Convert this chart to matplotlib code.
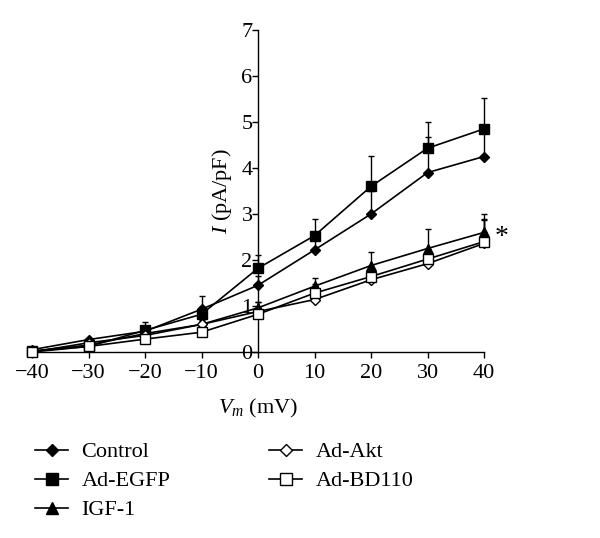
import numpy as np
import matplotlib
matplotlib.use("Agg")
import matplotlib.pyplot as plt
from matplotlib.lines import Line2D

plt.rcParams['font.family'] = ['Liberation Serif', 'DejaVu Serif']
plt.rcParams['mathtext.fontset'] = 'custom'
plt.rcParams['mathtext.rm'] = 'Liberation Serif'
plt.rcParams['mathtext.it'] = 'Liberation Serif:italic'

# voltage steps (mV)
vm = [-40, -30, -20, -10, 0, 10, 20, 30, 40]

# current density (pA/pF) and upper SEM
control = [0.05, 0.27, 0.45, 0.93, 1.45, 2.22, 3.0, 3.9, 4.25]
control_err = [0.02, 0.04, 0.08, 0.28, 0.2, 0.3, 0.5, 0.78, 0.6]
egfp = [0.02, 0.12, 0.47, 0.82, 1.82, 2.53, 3.6, 4.43, 4.85]
egfp_err = [0.02, 0.04, 0.18, 0.15, 0.28, 0.37, 0.66, 0.58, 0.68]
igf1 = [0.02, 0.15, 0.4, 0.6, 0.96, 1.43, 1.88, 2.25, 2.6]
igf1_err = [0.02, 0.03, 0.06, 0.1, 0.12, 0.18, 0.3, 0.42, 0.4]
akt = [0.0, 0.2, 0.36, 0.6, 0.88, 1.14, 1.57, 1.92, 2.36]
akt_err = [0.02, 0.03, 0.05, 0.08, 0.1, 0.3, 0.12, 0.15, 0.5]
bd110 = [0.0, 0.12, 0.28, 0.43, 0.82, 1.28, 1.64, 2.02, 2.4]
bd110_err = [0.02, 0.03, 0.05, 0.06, 0.27, 0.2, 0.15, 0.2, 0.5]

series = [
    ("Control", control, control_err, "D", "black"),
    ("Ad-EGFP", egfp, egfp_err, "s", "black"),
    ("IGF-1", igf1, igf1_err, "^", "black"),
    ("Ad-Akt", akt, akt_err, "D", "white"),
    ("Ad-BD110", bd110, bd110_err, "s", "white"),
]

fig = plt.figure(figsize=(6.0, 5.38), dpi=100)
ax = fig.add_axes([32 / 600, 1 - 352 / 538, 452 / 600, 322 / 538])

sizes = {"D": 5.5, "s": 7, "^": 7}
handles = []
for name, y, err, mk, fc in series:
    yerr = [np.zeros(len(err)), err]
    ax.errorbar(vm, y, yerr=yerr, color="black", lw=1.2, elinewidth=1.0,
                capsize=2.5, capthick=1.0, marker=mk, ms=sizes[mk],
                mfc=fc, mec="black", mew=1.0, clip_on=False, zorder=3)
    handles.append(Line2D([], [], color="black", lw=1.2, marker=mk,
                          ms=sizes[mk] + 1, mfc=fc, mec="black", mew=1.0))

ax.set_xlim(-40, 40)
ax.set_ylim(0, 7)
ax.set_xticks(vm)
ax.set_yticks(range(0, 8))
ax.spines['left'].set_position(('data', 0))
ax.spines['top'].set_visible(False)
ax.spines['right'].set_visible(False)
for s in ['left', 'bottom']:
    ax.spines[s].set_linewidth(1.0)
ax.tick_params(direction='out', length=4, width=1.0, labelsize=16, pad=5)
ax.tick_params(axis='y', pad=0)
ax.set_xlabel(r"$V_m$ (mV)", fontsize=16, labelpad=10)

ax.text(-6.3, 3.5, r"$I$ (pA/pF)", rotation=90, ha="center", va="center",
        fontsize=16)
ax.text(41.8, 2.5, "*", fontsize=20, ha="left", va="center", clip_on=False)

fig.legend(handles[:3], [s[0] for s in series[:3]],
           loc="upper left", bbox_to_anchor=(26 / 600, 1 - 433 / 538),
           frameon=False, fontsize=16, handlelength=1.5,
           handletextpad=0.6, labelspacing=0.38, borderaxespad=0)
fig.legend(handles[3:], [s[0] for s in series[3:]],
           loc="upper left", bbox_to_anchor=(260 / 600, 1 - 433 / 538),
           frameon=False, fontsize=16, handlelength=1.5,
           handletextpad=0.6, labelspacing=0.38, borderaxespad=0)

fig.savefig("out.png", dpi=100)
